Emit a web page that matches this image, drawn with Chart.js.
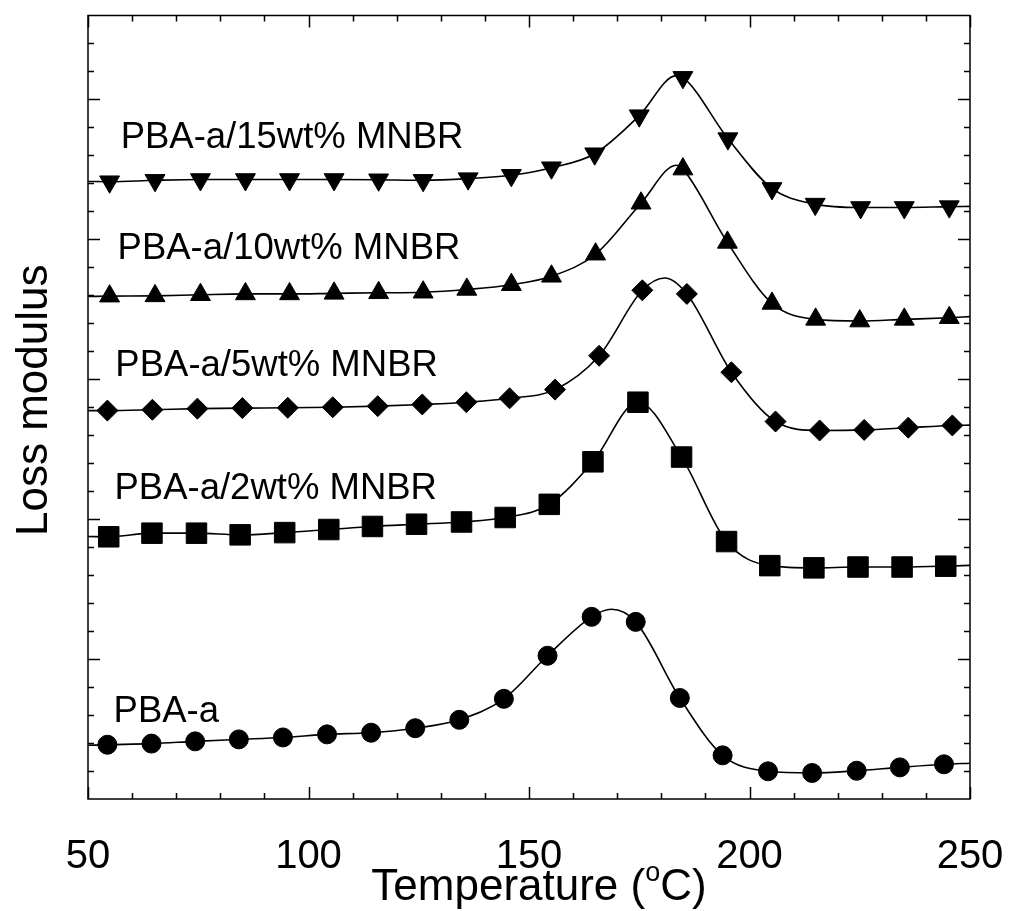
<!DOCTYPE html>
<html>
<head>
<meta charset="utf-8">
<title>Loss modulus vs temperature</title>
<script src="https://cdn.jsdelivr.net/npm/chart.js@4.4.0/dist/chart.umd.min.js"></script>
<style>
    html, body { margin: 0; padding: 0; background: #fff; }
    #wrap { width: 1010px; height: 911px; position: relative; }
</style>
</head>
<body>
<div id="wrap"><canvas id="lossChart"></canvas></div>
<script>
// values; y is in minor-tick units (the axis has no numbers)
const tempPBA = [54.4, 64.4, 74.3, 84.2, 94.2, 104.2, 114.2, 124.2, 134.2, 144.3, 154.2, 164.2, 174.2, 184.2, 193.9, 204.2, 214.2, 224.3, 234.1, 244.1];
const lossPBA = [1.94, 1.98, 2.06, 2.13, 2.20, 2.31, 2.37, 2.53, 2.83, 3.58, 5.12, 6.51, 6.33, 3.61, 1.56, 0.99, 0.93, 1.01, 1.13, 1.24];

const temp2 = [54.7, 64.5, 74.6, 84.5, 94.6, 104.6, 114.5, 124.5, 134.7, 144.6, 154.6, 164.5, 174.7, 184.6, 194.8, 204.6, 214.6, 224.6, 234.6, 244.5];
const loss2 = [9.37, 9.50, 9.50, 9.44, 9.52, 9.63, 9.74, 9.82, 9.90, 10.06, 10.53, 12.05, 14.18, 12.22, 9.20, 8.34, 8.26, 8.29, 8.29, 8.32];

const temp5 = [54.4, 64.6, 74.8, 85.0, 95.3, 105.5, 115.7, 125.8, 135.8, 145.6, 155.9, 165.9, 175.7, 185.8, 195.9, 205.9, 215.9, 226.0, 236.0, 246.0];
const loss5 = [13.88, 13.91, 13.95, 13.97, 13.98, 14.00, 14.04, 14.10, 14.18, 14.32, 14.63, 15.84, 18.18, 18.05, 15.25, 13.49, 13.17, 13.19, 13.27, 13.35];

const temp10 = [54.9, 65.2, 75.5, 85.7, 95.7, 105.8, 115.9, 126.0, 135.9, 146.0, 155.1, 165.1, 175.4, 184.9, 195.0, 205.1, 215.0, 225.0, 235.1, 245.3];
const loss10 = [17.97, 17.98, 18.02, 18.05, 18.05, 18.07, 18.09, 18.11, 18.21, 18.38, 18.68, 19.47, 21.29, 22.51, 19.89, 17.71, 17.14, 17.08, 17.14, 17.20];

const temp15 = [54.9, 65.2, 75.5, 85.7, 95.7, 105.8, 115.9, 126.0, 136.2, 146.0, 155.1, 164.9, 175.0, 184.9, 195.1, 205.1, 214.9, 225.2, 235.1, 245.3];
const loss15 = [22.06, 22.11, 22.14, 22.14, 22.14, 22.14, 22.13, 22.11, 22.17, 22.29, 22.56, 23.06, 24.42, 25.79, 23.60, 21.82, 21.26, 21.14, 21.14, 21.17];

// fitted curve: value at 50 and 250 degC, and the top of the hump
const fitEndsPBA = [1.92, 1.28];
const fitPeakPBA = [168.7, 6.78];
const fitEnds2 = [9.38, 8.35];
const fitEnds5 = [13.88, 13.36];
const fitPeak5 = [180.8, 18.62];
const fitEnds10 = [17.96, 17.24];
const fitPeak10 = [183.4, 22.65];
const fitEnds15 = [22.07, 21.18];
const fitPeak15 = [183.4, 25.85];

const seriesLabels = ['PBA-a/15wt% MNBR', 'PBA-a/10wt% MNBR', 'PBA-a/5wt% MNBR', 'PBA-a/2wt% MNBR', 'PBA-a'];
const labelTemp = [57.4, 56.7, 56.2, 56.0, 55.8];
const labelLevel = [23.74, 19.78, 15.57, 11.19, 3.20];

const xTickLabels = [50, 100, 150, 200, 250];

const plainFont = "'Liberation Sans', Arial, sans-serif";

function toPoints(temps, vals) {
    return temps.map((t, i) => ({ x: t, y: vals[i] }));
}

function fitCurve(temps, vals, ends, peak) {
    const pts = toPoints(temps, vals);
    pts.push({ x: 50, y: ends[0] });
    pts.push({ x: 250, y: ends[1] });
    if (peak) pts.push({ x: peak[0], y: peak[1] });
    return pts.sort((a, b) => a.x - b.x);
}

function markerSet(label, temps, vals, style, radius, rotation) {
    return {
        label: label,
        data: toPoints(temps, vals),
        showLine: false,
        pointStyle: style,
        pointRadius: radius,
        pointRotation: rotation || 0,
        pointBackgroundColor: '#000',
        pointBorderColor: '#000',
        pointBorderWidth: 1,
        order: 1
    };
}

function curveSet(label, pts) {
    return {
        label: label,
        data: pts,
        showLine: true,
        pointRadius: 0,
        borderColor: '#000',
        borderWidth: 1.6,
        cubicInterpolationMode: 'monotone',
        order: 2
    };
}

// box, inward ticks on all four sides, series labels and axis titles
const frameAndText = {
    id: 'frameAndText',
    afterDraw(chart) {
        const { ctx, chartArea: a, scales: { x, y } } = chart;
        ctx.save();
        ctx.strokeStyle = '#000';
        ctx.lineWidth = 1.5;
        ctx.beginPath();
        for (let t = 50; t <= 250; t += 10) {
            const px = Math.round(x.getPixelForValue(t)) + 0.5;
            const len = t % 50 === 0 ? 12 : 6;
            ctx.moveTo(px, a.bottom); ctx.lineTo(px, a.bottom - len);
            ctx.moveTo(px, a.top); ctx.lineTo(px, a.top + len);
        }
        for (let v = 1; v < 28; v++) {
            const py = Math.round(y.getPixelForValue(v)) + 0.5;
            const len = v % 5 === 0 ? 12 : 6;
            ctx.moveTo(a.left, py); ctx.lineTo(a.left + len, py);
            ctx.moveTo(a.right, py); ctx.lineTo(a.right - len, py);
        }
        ctx.stroke();
        ctx.strokeRect(a.left, a.top, a.right - a.left, a.bottom - a.top);

        ctx.fillStyle = '#000';
        ctx.font = '36.5px ' + plainFont;
        ctx.textAlign = 'left';
        ctx.textBaseline = 'alphabetic';
        seriesLabels.forEach((txt, i) => {
            ctx.fillText(txt, x.getPixelForValue(labelTemp[i]), y.getPixelForValue(labelLevel[i]) + 13);
        });

        // x title with superscript o
        const big = '44px ' + plainFont;
        const small = '27px ' + plainFont;
        ctx.font = big;
        const w1 = ctx.measureText('Temperature (').width;
        const w3 = ctx.measureText('C)').width;
        ctx.font = small;
        const w2 = ctx.measureText('o').width;
        const cx = (a.left + a.right) / 2 + 10;
        let sx = cx - (w1 + w2 + w3) / 2;
        const base = 900;
        ctx.font = big;
        ctx.fillText('Temperature (', sx, base);
        ctx.font = small;
        ctx.fillText('o', sx + w1, base - 19);
        ctx.font = big;
        ctx.fillText('C)', sx + w1 + w2, base);

        // y title
        ctx.translate(47, (a.top + a.bottom) / 2 - 7);
        ctx.rotate(-Math.PI / 2);
        ctx.textAlign = 'center';
        ctx.font = '44px ' + plainFont;
        ctx.fillText('Loss modulus', 0, 0);
        ctx.restore();
    }
};

const ctx = document.getElementById('lossChart').getContext('2d');
const lossChart = new Chart(ctx, {
    type: 'scatter',
    data: {
        datasets: [
            curveSet('PBA-a fit', fitCurve(tempPBA, lossPBA, fitEndsPBA, fitPeakPBA)),
            curveSet('2wt% fit', fitCurve(temp2, loss2, fitEnds2, null)),
            curveSet('5wt% fit', fitCurve(temp5, loss5, fitEnds5, fitPeak5)),
            curveSet('10wt% fit', fitCurve(temp10, loss10, fitEnds10, fitPeak10)),
            curveSet('15wt% fit', fitCurve(temp15, loss15, fitEnds15, fitPeak15)),
            markerSet('PBA-a', tempPBA, lossPBA, 'circle', 9.5),
            markerSet('PBA-a/2wt% MNBR', temp2, loss2, 'rect', 14.5),
            markerSet('PBA-a/5wt% MNBR', temp5, loss5, 'rectRot', 10.5),
            markerSet('PBA-a/10wt% MNBR', temp10, loss10, 'triangle', 11.5),
            markerSet('PBA-a/15wt% MNBR', temp15, loss15, 'triangle', 11.5, 180)
        ]
    },
    options: {
        responsive: true,
        maintainAspectRatio: false,
        animation: false,
        layout: { padding: { left: 0, right: 40, top: 11, bottom: 0 } },
        plugins: {
            legend: { display: false },
            tooltip: { enabled: false }
        },
        scales: {
            x: {
                type: 'linear',
                min: 50,
                max: 250,
                grid: { display: false, drawTicks: false },
                border: { display: false },
                afterBuildTicks: (scale) => {
                    scale.ticks = xTickLabels.map(v => ({ value: v }));
                },
                afterFit: (scale) => {
                    scale.height = 112;
                    scale.paddingLeft = 0;
                    scale.paddingRight = 0;
                },
                ticks: {
                    color: '#000',
                    padding: 34,
                    maxRotation: 0,
                    font: { size: 40, family: plainFont }
                }
            },
            y: {
                min: 0,
                max: 28,
                grid: { display: false, drawTicks: false },
                border: { display: false },
                ticks: { display: false },
                afterFit: (scale) => { scale.width = 88; }
            }
        }
    },
    plugins: [frameAndText]
});
</script>
</body>
</html>
